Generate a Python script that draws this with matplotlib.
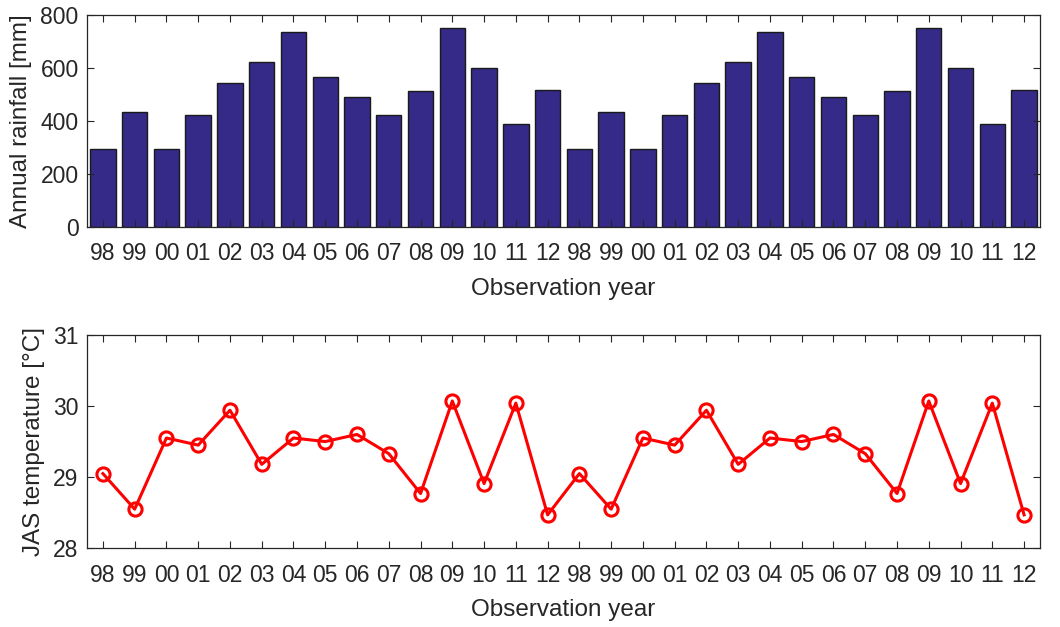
import matplotlib
matplotlib.use("Agg")
import matplotlib.pyplot as plt

# datos
etiquetas = ['98', '99', '00', '01', '02', '03', '04', '05', '06', '07', '08', '09', '10', '11', '12'] * 2
lluvia = [294, 433, 294, 421, 543, 624, 737, 566, 489, 421, 512, 750, 601, 389, 516] * 2
temperatura = [29.05, 28.55, 29.55, 29.45, 29.94, 29.18, 29.55, 29.50, 29.60, 29.33,
               28.77, 30.07, 28.91, 30.04, 28.47] * 2
x = list(range(1, len(etiquetas) + 1))

gris = '#262626'
plt.rcParams['font.family'] = ['Liberation Sans', 'DejaVu Sans']
plt.rcParams['font.size'] = 16.5
plt.rcParams['text.color'] = gris
plt.rcParams['axes.labelcolor'] = gris
plt.rcParams['xtick.color'] = gris
plt.rcParams['ytick.color'] = gris

fig = plt.figure(figsize=(10.6, 6.27), dpi=100)
ax1 = fig.add_axes([0.0821, 0.638, 0.899, 0.338])
ax2 = fig.add_axes([0.0821, 0.1255, 0.899, 0.3405])

#----------------------barras-----------------
ax1.bar(x, lluvia, width=0.8, color='#352A87', edgecolor='#1a1a1a', linewidth=1)
ax1.set_ylim(0, 800)
ax1.set_yticks([0, 200, 400, 600, 800])
ax1.set_ylabel('Annual rainfall [mm]', fontsize=17.5, labelpad=6)

#----------------------linea-----------------
ax2.plot(x, temperatura, color='red', linewidth=2.2, marker='o', markersize=9.5,
         markerfacecolor='none', markeredgewidth=2.2)
ax2.set_ylim(28, 31)
ax2.set_yticks([28, 29, 30, 31])
ax2.set_ylabel('JAS temperature [°C]', fontsize=17.5, labelpad=6)

for ax in (ax1, ax2):
    ax.set_xlim(0.5, 30.5)
    ax.set_xticks(x)
    ax.set_xticklabels(etiquetas)
    ax.set_xlabel('Observation year', fontsize=17.5, labelpad=9)
    ax.tick_params(direction='in', top=True, right=True, length=5, width=0.8)
    ax.tick_params(axis='x', pad=11)
    ax.tick_params(axis='y', pad=6)
    for s in ax.spines.values():
        s.set_color(gris)
        s.set_linewidth(0.9)

fig.savefig('out.png', dpi=100)
